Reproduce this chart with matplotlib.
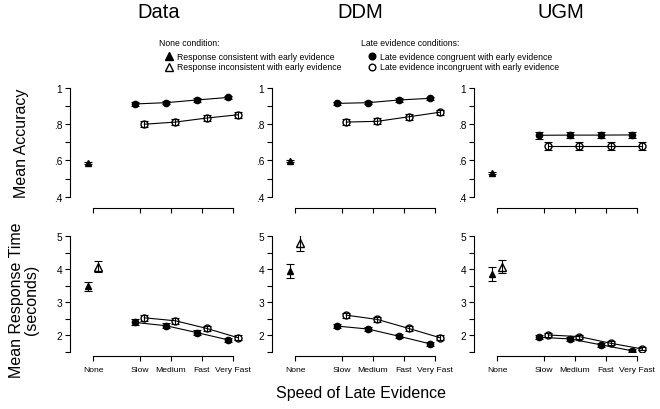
import matplotlib
matplotlib.use('Agg')
from matplotlib import pyplot as plt
from matplotlib.lines import Line2D

plt.rcParams['font.family'] = ['Liberation Sans', 'DejaVu Sans']

# x categories
speed_labels = ['None', 'Slow', 'Medium', 'Fast', 'Very Fast']
speed_x = [0, 1.5, 2.5, 3.5, 4.5]
models = ['Data', 'DDM', 'UGM']

# mean accuracy, None condition (consistent response only)
acc_none = [0.587, 0.598, 0.530]
acc_none_err = [0.006, 0.006, 0.005]
# mean accuracy, late evidence congruent / incongruent
acc_cong = [[0.912, 0.919, 0.934, 0.948],
            [0.915, 0.919, 0.934, 0.943],
            [0.739, 0.740, 0.740, 0.741]]
acc_cong_err = [[0.009, 0.010, 0.009, 0.008],
                [0.010, 0.010, 0.009, 0.009],
                [0.018, 0.018, 0.018, 0.018]]
acc_incong = [[0.800, 0.812, 0.834, 0.852],
              [0.812, 0.816, 0.841, 0.866],
              [0.680, 0.680, 0.680, 0.680]]
acc_incong_err = [[0.018, 0.018, 0.018, 0.018],
                  [0.016, 0.016, 0.015, 0.015],
                  [0.020, 0.020, 0.020, 0.020]]

# mean RT, None condition
rt_none_cons = [3.48, 3.95, 3.86]
rt_none_cons_err = [0.14, 0.22, 0.21]
rt_none_incons = [4.08, 4.80, 4.08]
rt_none_incons_err = [0.17, 0.24, 0.20]
# mean RT, late evidence
rt_cong = [[2.39, 2.29, 2.08, 1.86],
           [2.28, 2.19, 1.97, 1.74],
           [1.94, 1.89, 1.71, 1.53]]
rt_cong_err = [[0.09, 0.08, 0.07, 0.07],
               [0.07, 0.07, 0.06, 0.06],
               [0.06, 0.06, 0.06, 0.05]]
rt_incong = [[2.53, 2.44, 2.21, 1.93],
             [2.61, 2.48, 2.21, 1.93],
             [2.01, 1.96, 1.76, 1.59]]
rt_incong_err = [[0.09, 0.09, 0.08, 0.07],
                 [0.08, 0.07, 0.07, 0.07],
                 [0.06, 0.06, 0.06, 0.05]]

W, H = 660, 410
fig = plt.figure(figsize=(W / 100, H / 100), dpi=100)

px_unit = 31.1      # pixels per x unit
ax_w = 175          # axes width in px
x0 = -23 / px_unit
off = 0.15          # dodge for the two conditions

eb = dict(color='black', ecolor='black', elinewidth=0.8, capsize=3.2,
          capthick=0.8, linewidth=0.8)


def style_axis(ax, ylim, yticks, ylabels, out, show_x):
    ax.set_xlim(x0, x0 + ax_w / px_unit)
    ax.set_ylim(*ylim)
    for s in ['top', 'right']:
        ax.spines[s].set_visible(False)
    ax.spines['left'].set_bounds(yticks[0], yticks[-1])
    ax.spines['bottom'].set_position(('outward', out))
    ax.spines['bottom'].set_bounds(speed_x[0], speed_x[-1])
    for s in ['left', 'bottom']:
        ax.spines[s].set_linewidth(0.8)
    ax.set_yticks(yticks)
    ax.set_yticklabels(ylabels)
    ax.set_xticks(speed_x)
    ax.set_xticklabels(speed_labels if show_x else [])
    ax.tick_params(axis='both', direction='out', length=3.5, width=0.8, pad=2)
    ax.tick_params(axis='y', labelsize=7.3)
    ax.tick_params(axis='x', labelsize=6.1, pad=4)
    ax.patch.set_visible(False)


late_x = speed_x[1:]
for i, m in enumerate(models):
    left = 70 + 202 * i

    # accuracy row
    ax = fig.add_axes([left / W, 1 - 197.7 / H, ax_w / W, 108.7 / H])
    ax.errorbar([speed_x[0] - off], [acc_none[i]], yerr=[acc_none_err[i]],
                fmt='^', markersize=5, **eb)
    ax.errorbar([x - off for x in late_x], acc_cong[i], yerr=acc_cong_err[i],
                fmt='-o', markersize=4.5, **eb)
    ax.errorbar([x + off for x in late_x], acc_incong[i], yerr=acc_incong_err[i],
                fmt='-o', markersize=5, markerfacecolor='none', **eb)
    style_axis(ax, (0.4, 1.0), [0.4, 0.5, 0.6, 0.7, 0.8, 0.9, 1.0],
               ['.4', '', '.6', '', '.8', '', '1'], 8, False)

    # response time row
    ax = fig.add_axes([left / W, 1 - 352.8 / H, ax_w / W, 115.5 / H])
    ax.errorbar([speed_x[0] - off], [rt_none_cons[i]], yerr=[rt_none_cons_err[i]],
                fmt='^', markersize=5, **eb)
    ax.errorbar([speed_x[0] + off], [rt_none_incons[i]], yerr=[rt_none_incons_err[i]],
                fmt='^', markersize=6, markerfacecolor='none', **eb)
    ax.errorbar([x - off for x in late_x], rt_cong[i], yerr=rt_cong_err[i],
                fmt='-o', markersize=4.5, **eb)
    ax.errorbar([x + off for x in late_x], rt_incong[i], yerr=rt_incong_err[i],
                fmt='-o', markersize=5, markerfacecolor='none', **eb)
    style_axis(ax, (1.5, 5.0), [1.5, 2, 2.5, 3, 3.5, 4, 4.5, 5],
               ['', '2', '', '3', '', '4', '', '5'], 3, True)

# column titles
for xt, m in zip([159, 360, 561], models):
    fig.text(xt / W, 1 - 12 / H, m, ha='center', va='center', fontsize=14.5)

fig.text(22 / W, 1 - 143 / H, 'Mean Accuracy', rotation=90,
         ha='center', va='center', fontsize=11.5)
fig.text(24 / W, 1 - 300 / H, 'Mean Response Time\n(seconds)', rotation=90,
         ha='center', va='center', fontsize=11.5, linespacing=1.0)
fig.text(361 / W, 1 - 394 / H, 'Speed of Late Evidence',
         ha='center', va='center', fontsize=11.5)

# legends, drawn by hand in pixel positions
leg_fs = 6.2
leg_blocks = [
    (159, 169, 'None condition:', '^', 5.5,
     ['Response consistent with early evidence',
      'Response inconsistent with early evidence']),
    (361, 372, 'Late evidence conditions:', 'o', 4.8,
     ['Late evidence congruent with early evidence',
      'Late evidence incongruent with early evidence']),
]
for tx, mx, title, mk, ms, labels in leg_blocks:
    fig.text(tx / W, 1 - 43.5 / H, title, ha='left', va='center', fontsize=leg_fs)
    for j, (lab, fc) in enumerate(zip(labels, ['black', 'none'])):
        y = 1 - (57 + 10.6 * j) / H
        fig.add_artist(Line2D([mx / W], [y], marker=mk, markersize=ms,
                              color='black', markerfacecolor=fc,
                              linestyle='none', transform=fig.transFigure))
        fig.text((mx + 8) / W, y, lab, ha='left', va='center', fontsize=leg_fs)

fig.savefig('out.png', dpi=100)
